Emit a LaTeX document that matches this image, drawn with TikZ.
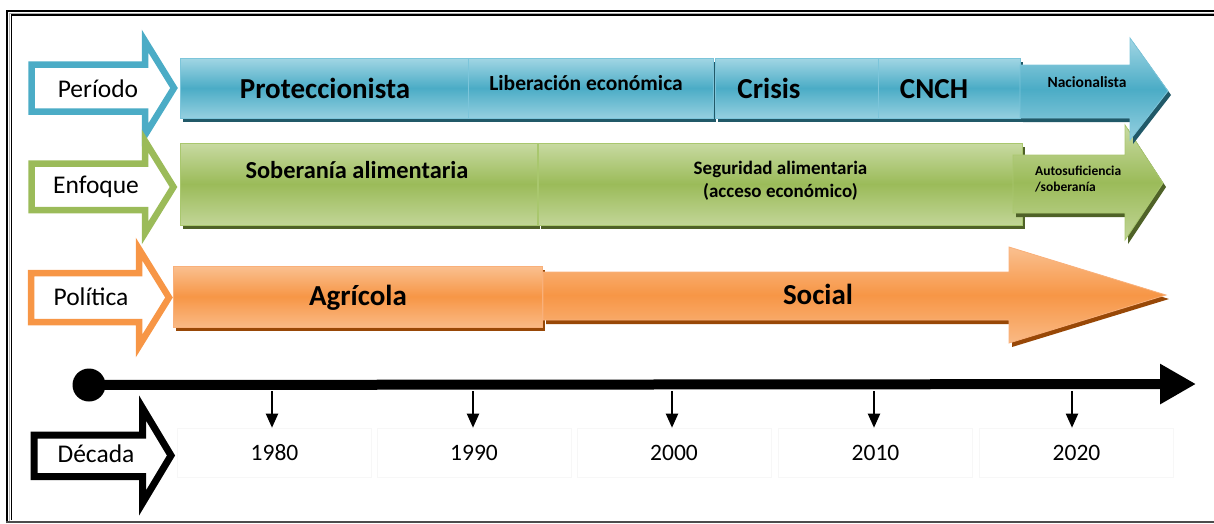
\documentclass[tikz,border=0pt]{standalone}
\usepackage{fontspec}
\setmainfont{Carlito}
\usetikzlibrary{arrows.meta}
\definecolor{bluemid}{HTML}{4BACC6}
\definecolor{bluelight}{HTML}{A2D6E4}
\definecolor{blueshadow}{HTML}{215968}
\definecolor{blueedge}{HTML}{7CC5DA}
\definecolor{greenmid}{HTML}{9BBB59}
\definecolor{greenlight}{HTML}{C8DAA2}
\definecolor{greenshadow}{HTML}{4F6228}
\definecolor{greenedge}{HTML}{A9C76E}
\definecolor{orangemid}{HTML}{F79646}
\definecolor{orangelight}{HTML}{FAC090}
\definecolor{orangeshadow}{HTML}{984807}
\definecolor{orangeedge}{HTML}{F9B07A}
\newcommand\fsz[1]{\fontsize{#1}{#1}\selectfont}
\newcommand\bandrect[5]{%
  \fill[#1shadow, shift={(3,4)}] (#2,#3) rectangle (#4,#5);
  \path[#1band] (#2,#3) rectangle (#4,#5);}
\newcommand\bandarrow[2]{%
  \fill[#1shadow, shift={(3,4)}] #2;
  \path[#1band] #2;}
\tikzset{
  blueband/.style={top color=bluelight, bottom color=bluelight!85!bluemid, middle color=bluemid, draw=blueedge, line width=0.8},
  greenband/.style={top color=greenlight, bottom color=greenlight!85!greenmid, middle color=greenmid, draw=greenedge, line width=0.8},
  orangeband/.style={top color=orangelight, bottom color=orangelight!85!orangemid, middle color=orangemid, draw=orangeedge, line width=0.8},
  lblarrow/.style={draw=#1, fill=white, line width=6.5, line join=miter, miter limit=20},
  lbl/.style={anchor=base, inner sep=0, font=\fsz{25.5}},
  big/.style={anchor=base, inner sep=0, font=\fsz{29}\bfseries},
  bandtxt/.style={anchor=base, inner sep=0, font=\fsz{#1}\bfseries},
  yearbox/.style={draw=gray!6, line width=0.6, minimum width=194, minimum height=49, inner sep=0, font=\fsz{23.5}},
  tick/.style={line width=2, -{Triangle[length=14pt,width=12pt]}}
}
\begin{document}
\begin{tikzpicture}[x=1pt,y=-1pt]
\useasboundingbox (0,0) rectangle (1214,523);
% frame
\draw[line width=2] (7,523) -- (7,11) -- (1214,11);
\draw[gray!60, line width=0.8] (9.3,523) -- (9.3,12.9) -- (1214,12.9);
\draw[line width=1.6] (11.3,520) -- (11.3,14.8) -- (1214,14.8);
\draw[gray!60!black, line width=1.5] (6,521.8) -- (1214,521.8);

% ---------- green band (drawn first, blue head overlaps it)
\bandrect{green}{180}{143}{537}{225}
\bandrect{green}{538}{143}{1022}{225}
\bandarrow{green}{(1013,155) -- (1125,155) -- (1125,125) -- (1163,183) -- (1125,240) -- (1125,213) -- (1013,213) -- cycle}
\node[bandtxt=24.4] (tsob) at (357,178) {Soberanía alimentaria};
\node[bandtxt=19] (tseg1) at (780.5,174) {Seguridad alimentaria};
\node[bandtxt=19] (tseg2) at (780.5,197) {(acceso económico)};
\node[bandtxt=13.5, anchor=base west] (taut1) at (1035,175) {Autosuficiencia};
\node[bandtxt=13.5, anchor=base west] (taut2) at (1035,191) {/soberanía};

% ---------- blue band
\bandrect{blue}{180}{58}{468}{118}
\bandrect{blue}{468}{58}{713}{118}
\bandrect{blue}{715}{58}{878}{118}
\bandrect{blue}{878}{58}{1020}{118}
\bandarrow{blue}{(1020,65) -- (1130,65) -- (1130,38) -- (1168,91) -- (1130,140) -- (1130,118) -- (1020,118) -- cycle}
\node[big] (tprot) at (325,98) {Proteccionista};
\node[bandtxt=21.5] (tlib) at (586,90) {Liberación económica};
\node[big] (tcri) at (769,98) {Crisis};
\node[big] (tcnch) at (934,98) {CNCH};
\node[bandtxt=15.5] (tnac) at (1087,87.5) {Nacionalista};

% ---------- orange band
\bandrect{orange}{173}{266}{542}{327}
\bandarrow{orange}{(543,272) -- (1009,272) -- (1009,247) -- (1166,295) -- (1009,343) -- (1009,320) -- (543,320) -- cycle}
\node[big] (tagr) at (358,305) {Agrícola};
\node[big] (tsoc) at (818,304) {Social};

% ---------- label arrows
\draw[lblarrow=bluemid] (31.5,64.5) -- (145,64.5) -- (145,41) -- (174,88) -- (145,135) -- (145,111.5) -- (31.5,111.5) -- cycle;
\draw[lblarrow=greenmid] (31.5,163.5) -- (145,163.5) -- (145,141) -- (173.5,187) -- (145,233) -- (145,210) -- (31.5,210) -- cycle;
\draw[lblarrow=orangemid] (31,273) -- (139,273) -- (139,249) -- (169,297.5) -- (139,346) -- (139,322) -- (31,322) -- cycle;
\draw[lblarrow=black, line width=7] (34,435) -- (142.5,435) -- (142.5,408) -- (171,455.5) -- (142.5,503) -- (142.5,476.5) -- (34,476.5) -- cycle;
\node[lbl] (lper) at (98,97) {Período};
\node[lbl] (lenf) at (96,193) {Enfoque};
\node[lbl] (lpol) at (91,305) {Política};
\node[lbl] (ldec) at (96,462) {Década};

% ---------- timeline
\node[circle, fill=black, minimum size=33, inner sep=0] (start) at (89,385) {};
\coordinate (tend) at (1196,384);
\draw[line width=10, -{Triangle[length=36pt,width=38pt]}] (start.center) -- (tend);

% ---------- decades
\node[yearbox] (y1980) at (274.5,452.5) {1980};
\node[yearbox] (y1990) at (474,452.5) {1990};
\node[yearbox] (y2000) at (674,452.5) {2000};
\node[yearbox] (y2010) at (875.5,452.5) {2010};
\node[yearbox] (y2020) at (1076.5,452.5) {2020};
\coordinate (k1) at (272,391);
\coordinate (k2) at (473,391);
\coordinate (k3) at (672,391);
\coordinate (k4) at (874,391);
\coordinate (k5) at (1072,391);
\draw[tick] (k1) -- (k1 |- y1980.north);
\draw[tick] (k2) -- (k2 |- y1990.north);
\draw[tick] (k3) -- (k3 |- y2000.north);
\draw[tick] (k4) -- (k4 |- y2010.north);
\draw[tick] (k5) -- (k5 |- y2020.north);
\end{tikzpicture}
\end{document}
